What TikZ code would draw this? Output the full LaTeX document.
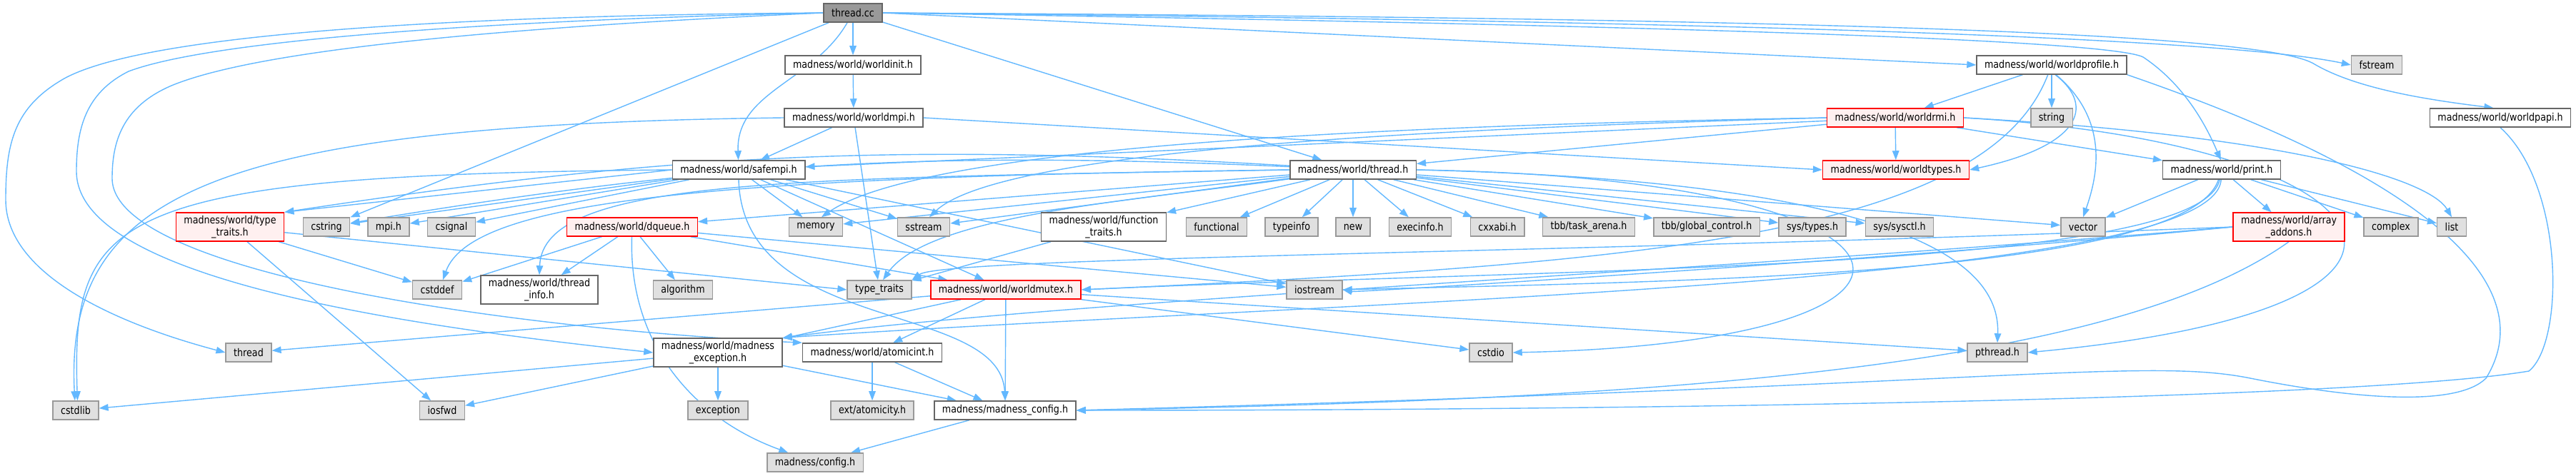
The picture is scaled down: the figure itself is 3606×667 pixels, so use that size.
\documentclass[tikz,border=0pt]{standalone}
\usepackage{fontspec}
\newfontfamily\dxfont[FakeStretch=0.86]{DejaVu Sans}
\usetikzlibrary{arrows.meta, backgrounds}
\definecolor{edgeblue}{HTML}{63B8FF}
\definecolor{sysfill}{HTML}{E0E0E0}
\definecolor{sysdraw}{HTML}{999999}
\definecolor{hdrdraw}{HTML}{666666}
\definecolor{redfill}{HTML}{FFF0F0}
\definecolor{rootfill}{HTML}{999999}
\tikzset{
  incbox/.style={rectangle, font=\dxfont\fontsize{4.2}{4.9}\selectfont, minimum height=2.6mm,
                 inner xsep=1.1mm, inner ysep=0.2mm, line width=0.15mm, align=center},
  sysbox/.style={incbox, fill=sysfill, draw=sysdraw},
  hdrbox/.style={incbox, fill=white, draw=hdrdraw},
  redbox/.style={incbox, fill=redfill, draw=red},
  rootbox/.style={incbox, fill=rootfill, draw=hdrdraw},
  inc/.style={-{Triangle[length=1.3mm, width=0.95mm]}, draw=edgeblue, line width=0.14mm},
}
\begin{document}
\begin{tikzpicture}[x=0.1mm, y=-0.1mm, tall/.style={minimum height=4mm}]
  \useasboundingbox (0,0) rectangle (3606,667);
  % upper levels
  \node[rootbox] (cc) at (1194,18) {thread.cc};
  \node[hdrbox] (init) at (1194,91) {madness/world/worldinit.h};
  \node[hdrbox] (prof) at (2872,91) {madness/world/worldprofile.h};
  \node[sysbox] (fstream) at (3327,91) {fstream};
  \node[hdrbox] (mpi) at (1195,165) {madness/world/worldmpi.h};
  \node[redbox] (rmi) at (2653,165) {madness/world/worldrmi.h};
  \node[sysbox] (string) at (2872,165) {string};
  \node[hdrbox] (papi) at (3500,165) {madness/world/worldpapi.h};
  \node[hdrbox] (safempi) at (1034,238) {madness/world/safempi.h};
  \node[hdrbox] (thrh) at (1894,238) {madness/world/thread.h};
  \node[redbox] (wtypes) at (2654,238) {madness/world/worldtypes.h};
  \node[hdrbox] (print) at (3110,238) {madness/world/print.h};
  % row of leaves under thread.h
  \node[redbox, tall] (typetr) at (322,318) {madness/world/type\\\_traits.h};
  \node[sysbox] (cstring) at (457,318) {cstring};
  \node[sysbox] (mpih) at (544,318) {mpi.h};
  \node[sysbox] (csignal) at (632,318) {csignal};
  \node[redbox] (dqueue) at (885,318) {madness/world/dqueue.h};
  \node[sysbox] (memory) at (1142,318) {memory};
  \node[sysbox] (sstream) at (1293,318) {sstream};
  \node[hdrbox, tall] (functr) at (1545,318) {madness/world/function\\\_traits.h};
  \node[sysbox] (functional) at (1703,318) {functional};
  \node[sysbox] (typeinfo) at (1808,318) {typeinfo};
  \node[sysbox] (newh) at (1894,318) {new};
  \node[sysbox] (execinfo) at (1988,318) {execinfo.h};
  \node[sysbox] (cxxabi) at (2096,318) {cxxabi.h};
  \node[sysbox] (taskarena) at (2224,318) {tbb/task\_arena.h};
  \node[sysbox] (globalctl) at (2389,318) {tbb/global\_control.h};
  \node[sysbox] (systypes) at (2537,318) {sys/types.h};
  \node[sysbox] (syssysctl) at (2659,318) {sys/sysctl.h};
  \node[sysbox] (vector) at (2916,318) {vector};
  \node[redbox, tall] (array) at (3204,318) {madness/world/array\\\_addons.h};
  \node[sysbox] (complex) at (3347,318) {complex};
  \node[sysbox] (list) at (3432,318) {list};
  % lower levels
  \node[sysbox] (cstddef) at (612,406) {cstddef};
  \node[hdrbox, tall] (thrinfo) at (755,406) {madness/world/thread\\\_info.h};
  \node[sysbox] (algorithm) at (956,406) {algorithm};
  \node[sysbox] (stdtt) at (1231,406) {type\_traits};
  \node[redbox] (mutex) at (1408,406) {madness/world/worldmutex.h};
  \node[sysbox] (iostream) at (1840,406) {iostream};
  \node[sysbox] (thread) at (348,494) {thread};
  \node[hdrbox, tall] (mexc) at (1005,494) {madness/world/madness\\\_exception.h};
  \node[hdrbox] (atomic) at (1221,494) {madness/world/atomicint.h};
  \node[sysbox] (cstdio) at (2087,494) {cstdio};
  \node[sysbox] (pthread) at (2796,494) {pthread.h};
  \node[sysbox] (cstdlib) at (106,575) {cstdlib};
  \node[sysbox] (iosfwd) at (619,575) {iosfwd};
  \node[sysbox] (exception) at (1005,575) {exception};
  \node[sysbox] (atomicity) at (1221,575) {ext/atomicity.h};
  \node[hdrbox] (mconfig) at (1407,575) {madness/madness\_config.h};
  \node[sysbox] (config) at (1141,648) {madness/config.h};

  \begin{scope}[on background layer]
    % thread.cc
    \draw[inc] (cc) -- (init);
    \draw[inc] (cc) -- (thrh);
    \draw[inc] (cc) to[out=240,in=92] (safempi);
    \draw[inc] (cc) -- (cstring);
    \draw[inc] (cc.east) -- (prof.west);
    \draw[inc] (cc.east) .. controls (2300,28) and (3100,50) .. (fstream.west);
    \draw[inc] (cc.east) .. controls (2500,25) and (3170,45) .. (3240,90)
      .. controls (3300,125) and (3400,140) .. (papi.125);
    \draw[inc] (cc.east) .. controls (2300,35) and (2950,55) .. (3000,80)
      .. controls (3060,120) and (3090,180) .. (print.95);
    \draw[inc] (cc.west) .. controls (600,22) and (200,50) .. (90,110)
      .. controls (20,150) and (8,200) .. (8,280)
      .. controls (8,380) and (150,450) .. (thread.west);
    \draw[inc] (cc.west) .. controls (700,28) and (300,55) .. (180,100)
      .. controls (120,130) and (107,180) .. (107,240)
      .. controls (107,380) and (500,450) .. (mexc.west);
    \draw[inc] (cc.west) .. controls (800,34) and (380,62) .. (240,120)
      .. controls (170,150) and (157,200) .. (157,250)
      .. controls (157,380) and (700,460) .. (atomic.north west);
    % worldinit.h, worldmpi.h
    \draw[inc] (init) -- (mpi);
    \draw[inc] (mpi) -- (safempi);
    \draw[inc] (mpi) -- (stdtt);
    \draw[inc] (mpi.east) -- (wtypes.west);
    \draw[inc] (mpi.west) .. controls (300,175) and (90,270) .. (cstdlib.95);
    % safempi.h
    \draw[inc] (safempi.west) .. controls (150,245) and (100,300) .. (cstdlib.80);
    \draw[inc] (safempi.west) -- (typetr.north east);
    \foreach \t in {cstring,mpih,csignal,memory,sstream,iostream,mutex}
      \draw[inc] (safempi) -- (\t);
    \draw[inc] (safempi.south) .. controls (1040,470) and (1400,420) .. (mconfig.north);
    % worldprofile.h
    \draw[inc] (prof) -- (rmi);
    \draw[inc] (prof) -- (string);
    \draw[inc] (prof.-70) .. controls (2935,150) and (2910,205) .. (wtypes.east);
    \draw[inc] (prof.-66) .. controls (2955,170) and (2935,250) .. (vector.north);
    \draw[inc] (prof) .. controls (2780,330) and (2300,370) .. (mutex.east);
    \draw[inc] (prof.south east) .. controls (3400,250) and (3560,400) .. (3480,530)
      .. controls (3440,570) and (3300,560) .. (3150,530)
      .. controls (3000,500) and (2800,540) .. (mconfig.east);
    \draw[inc] (papi.south) .. controls (3590,260) and (3590,480) .. (3540,520)
      .. controls (3300,560) and (2300,575) .. (mconfig.east);
    % worldrmi.h
    \draw[inc] (rmi) -- (safempi);
    \draw[inc] (rmi) -- (thrh);
    \draw[inc] (rmi) -- (wtypes);
    \draw[inc] (rmi) -- (print);
    \draw[inc] (rmi.east) .. controls (3200,190) and (3400,250) .. (list.north);
    \draw[inc] (rmi.east) .. controls (3350,200) and (3520,430) .. (pthread.east);
    \draw[inc] (rmi.west) .. controls (2000,175) and (1300,200) .. (memory.60);
    \draw[inc] (rmi.west) .. controls (2000,180) and (1400,210) .. (sstream.60);
    % thread.h
    \draw[inc] (thrh) to[bend right=6] (typetr.north east);
    \draw[inc] (thrh) to[bend right=6] (cstring);
    \draw[inc] (thrh) -- (dqueue);
    \draw[inc] (thrh.west) .. controls (1100,250) and (760,250) .. (thrinfo.north);
    \draw[inc] (thrh.west) .. controls (1000,248) and (660,280) .. (cstddef.60);
    \draw[inc] (thrh) .. controls (1600,280) and (1300,300) .. (stdtt.70);
    \foreach \t in {memory,sstream,functr,functional,typeinfo,newh,execinfo,cxxabi,taskarena,globalctl,systypes,syssysctl,vector}
      \draw[inc] (thrh) -- (\t);
    \draw[inc] (thrh.east) .. controls (2750,250) and (2790,480) .. (cstdio.east);
    \draw[inc] (thrh.east) .. controls (2700,255) and (2800,380) .. (pthread.north);
    % print.h, array_addons.h
    \foreach \t in {vector,array,complex,list}
      \draw[inc] (print) -- (\t);
    \draw[inc] (print) .. controls (3060,390) and (2300,395) .. (iostream.east);
    \draw[inc] (print) .. controls (3080,380) and (2200,375) .. (mutex.east);
    \draw[inc] (print) .. controls (3100,400) and (1900,420) .. (mexc.north east);
    \draw[inc] (array.west) .. controls (2700,360) and (1900,410) .. (iostream.east);
    \draw[inc] (array.west) .. controls (2400,380) and (1500,420) .. (mexc.north east);
    \draw[inc] (array.west) .. controls (2200,355) and (1320,360) .. (stdtt.north east);
    \draw[inc] (array.south) .. controls (2950,520) and (2300,560) .. (mconfig.east);
    % dqueue.h, type_traits.h, function_traits.h
    \foreach \t in {cstddef,thrinfo,algorithm,mutex,iostream}
      \draw[inc] (dqueue) -- (\t);
    \draw[inc] (dqueue) to[out=-92,in=160] (config);
    \draw[inc] (typetr) -- (cstddef);
    \draw[inc] (typetr) -- (iosfwd);
    \draw[inc] (typetr) -- (stdtt.west);
    \draw[inc] (functr) -- (stdtt);
    % worldmutex.h and below
    \foreach \t in {mexc,atomic,mconfig,thread,cstdio,pthread}
      \draw[inc] (mutex) -- (\t);
    \foreach \t in {cstdlib,iosfwd,exception,mconfig}
      \draw[inc] (mexc) -- (\t);
    \draw[inc] (atomic) -- (atomicity);
    \draw[inc] (atomic) -- (mconfig);
    \draw[inc] (mconfig) -- (config);
  \end{scope}
\end{tikzpicture}
\end{document}
